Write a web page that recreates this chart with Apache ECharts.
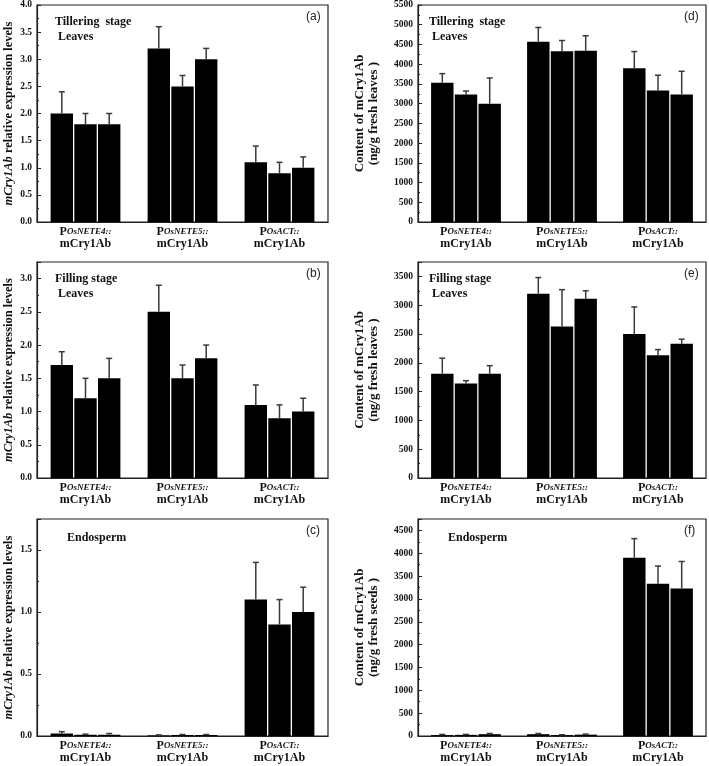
<!DOCTYPE html>
<html>
<head>
<meta charset="utf-8">
<script src="https://cdn.jsdelivr.net/npm/echarts@6/dist/echarts.min.js"></script>
<style>
  html, body { margin: 0; padding: 0; background: #fff; }
  #chart { width: 709px; height: 766px; }
</style>
</head>
<body>
<div id="chart"></div>
<script>
// promoter constructs on the x axis
const categories = ['OsNETE4::', 'OsNETE5::', 'OsACT::'];

// rows = construct, columns = three lines; mean and upper error (SD)
const tillerExprMean = [[2.0, 1.8, 1.8], [3.2, 2.5, 3.0], [1.1, 0.9, 1.0]];
const tillerExprErr  = [[0.4, 0.2, 0.2], [0.4, 0.2, 0.2], [0.3, 0.2, 0.2]];
const fillExprMean   = [[1.7, 1.2, 1.5], [2.5, 1.5, 1.8], [1.1, 0.9, 1.0]];
const fillExprErr    = [[0.2, 0.3, 0.3], [0.4, 0.2, 0.2], [0.3, 0.2, 0.2]];
const endoExprMean   = [[0.02, 0.01, 0.01], [0.005, 0.008, 0.008], [1.1, 0.9, 1.0]];
const endoExprErr    = [[0.015, 0.005, 0.01], [0.004, 0.004, 0.004], [0.3, 0.2, 0.2]];

const tillerProtMean = [[3530, 3230, 3000], [4570, 4330, 4340], [3900, 3330, 3230]];
const tillerProtErr  = [[230, 90, 650], [360, 270, 380], [420, 390, 590]];
const fillProtMean   = [[1810, 1640, 1810], [3200, 2630, 3110], [2500, 2130, 2330]];
const fillProtErr    = [[270, 50, 140], [280, 640, 140], [470, 100, 80]];
const endoProtMean   = [[20, 25, 40], [40, 20, 30], [3900, 3330, 3230]];
const endoProtErr    = [[15, 10, 15], [15, 8, 12], [420, 390, 590]];

const yMax      = [4, 3.25, 1.75, 5500, 3750, 4750];
const yInterval = [0.5, 0.5, 0.5, 500, 500, 500];
const tags      = ['(a)', '(b)', '(c)', '(d)', '(e)', '(f)'];
const notes     = ['Tillering  stage\n Leaves', 'Filling stage\n Leaves', 'Endosperm',
                   'Tillering  stage\n Leaves', 'Filling stage\n Leaves', 'Endosperm'];

const means = [tillerExprMean, fillExprMean, endoExprMean, tillerProtMean, fillProtMean, endoProtMean];
const errs  = [tillerExprErr, fillExprErr, endoExprErr, tillerProtErr, fillProtErr, endoProtErr];

const serif = "'Liberation Serif', 'DejaVu Serif', serif";
const BAR_W = 22.4;
const BAR_GAP = 1.3;

const gridPos = [
  {left: 37,  top: 5,   width: 291, height: 217},
  {left: 37,  top: 262, width: 291, height: 216},
  {left: 37,  top: 519, width: 291, height: 217},
  {left: 418, top: 5,   width: 288, height: 217},
  {left: 418, top: 262, width: 288, height: 216},
  {left: 418, top: 519, width: 288, height: 217}
];

const chart = echarts.init(document.getElementById('chart'));

var grids = [], xAxes = [], yAxes = [], series = [], graphics = [];

gridPos.forEach(function (g, k) {
  grids.push(Object.assign({show: true, borderColor: '#222', borderWidth: 1.2, containLabel: false}, g));

  xAxes.push({
    type: 'category', gridIndex: k, data: categories,
    axisLine: {lineStyle: {color: '#222', width: 1.2}},
    axisTick: {show: false},
    axisLabel: {
      margin: 4, interval: 0, hideOverlap: false,
      formatter: function (v) { return '{p|P}{s|' + v + '}\n{m|mCry1Ab}'; },
      rich: {
        p: {fontFamily: serif, fontWeight: 'bold', fontSize: 12, color: '#111', lineHeight: 12},
        s: {fontFamily: serif, fontStyle: 'italic', fontWeight: 'bold', fontSize: 9, color: '#111', lineHeight: 12},
        m: {fontFamily: serif, fontWeight: 'bold', fontSize: 12, color: '#111', lineHeight: 12}
      }
    }
  });

  var left = k < 3;
  yAxes.push({
    type: 'value', gridIndex: k, min: 0, max: yMax[k], interval: yInterval[k],
    axisLine: {show: true, lineStyle: {color: '#222', width: 1.2}},
    axisTick: {show: true, inside: true, length: 4, lineStyle: {color: '#222'}},
    minorTick: {show: true, splitNumber: 2, length: 2, lineStyle: {color: '#222'}},
    splitLine: {show: false},
    axisLabel: {
      fontFamily: serif, fontWeight: 'bold', fontSize: 9.5, color: '#111', margin: 5,
      showMaxLabel: (k === 0 || k === 3),
      formatter: function (v) { return left ? v.toFixed(1) : String(Math.round(v)); }
    },
    name: left ? '{i|mCry1Ab} relative expression levels'
               : 'Content of mCry1Ab\n(ng/g fresh ' + (k === 5 ? 'seeds' : 'leaves') + ' )',
    nameLocation: 'middle',
    nameGap: left ? 21 : 37,
    nameTextStyle: {
      fontFamily: serif, fontWeight: 'bold', fontSize: left ? 12.5 : 13, color: '#111', lineHeight: 14,
      rich: {i: {fontFamily: serif, fontStyle: 'italic', fontWeight: 'bold', fontSize: 12.5, color: '#111'}}
    }
  });

  for (var r = 0; r < 3; r++) {
    series.push({
      type: 'bar', xAxisIndex: k, yAxisIndex: k,
      barWidth: BAR_W, barGap: (BAR_GAP / BAR_W * 100) + '%',
      itemStyle: {color: '#000'},
      silent: true,
      data: means[k].map(function (row) { return row[r]; })
    });
  }

  var errData = [];
  means[k].forEach(function (row, ci) {
    row.forEach(function (m, r) { errData.push([ci, m, errs[k][ci][r], r]); });
  });
  series.push({
    type: 'custom', xAxisIndex: k, yAxisIndex: k, z: 5, silent: true,
    data: errData,
    renderItem: function (params, api) {
      var base = api.coord([api.value(0), api.value(1)]);
      var top = api.coord([api.value(0), api.value(1) + api.value(2)]);
      var x = base[0] + (api.value(3) - 1) * (BAR_W + BAR_GAP);
      var st = {stroke: '#3a3a3a', lineWidth: 1.5};
      return {
        type: 'group',
        children: [
          {type: 'line', shape: {x1: x, y1: base[1], x2: x, y2: top[1]}, style: st},
          {type: 'line', shape: {x1: x - 3, y1: top[1], x2: x + 3, y2: top[1]}, style: st}
        ]
      };
    }
  });

  graphics.push({
    type: 'text', left: g.left + g.width - 22, top: g.top + 6,
    style: {text: tags[k], font: "12px 'Liberation Sans', Arial, sans-serif", fill: '#222'}
  });
  var single = notes[k] === 'Endosperm';
  graphics.push({
    type: 'text',
    left: g.left + (single ? 30 : (left ? 18 : 11)),
    top: g.top + (single ? 11 : 9),
    style: {text: notes[k], font: "bold 12px " + serif, fill: '#111', lineHeight: 15}
  });
});

chart.setOption({
  animation: false,
  grid: grids,
  xAxis: xAxes,
  yAxis: yAxes,
  series: series,
  graphic: graphics
});
</script>
</body>
</html>
